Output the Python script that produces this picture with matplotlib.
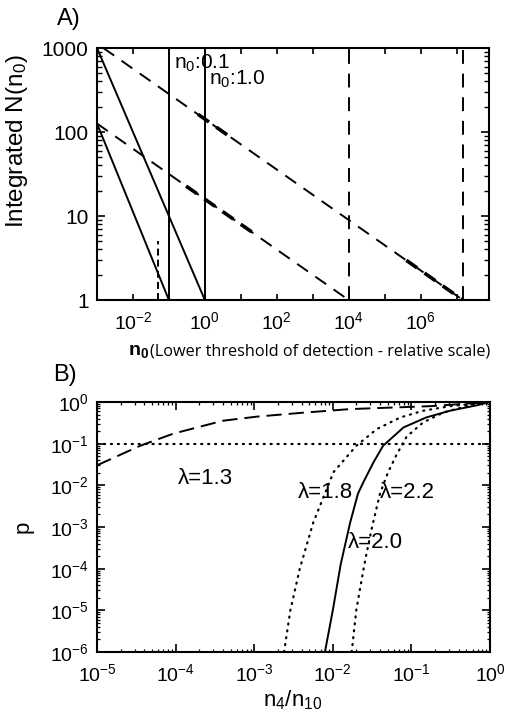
import numpy as np
import matplotlib
matplotlib.use('Agg')
import matplotlib.pyplot as plt
from matplotlib.ticker import FixedLocator, FuncFormatter, NullFormatter, LogLocator, NullLocator

plt.rcParams['font.family'] = ['Liberation Sans', 'DejaVu Sans']
plt.rcParams['mathtext.fontset'] = 'custom'
plt.rcParams['mathtext.rm'] = 'Liberation Sans'
plt.rcParams['mathtext.it'] = 'Liberation Sans:italic'
plt.rcParams['mathtext.bf'] = 'Liberation Sans:bold'
plt.rcParams['lines.scale_dashes'] = False

# ---------------- Panel A data ----------------
a_solid1_n0 = [1e-3, 1.0]
a_solid1_N = [1000, 1]
a_solid2_n0 = [1e-3, 0.1]
a_solid2_N = [126, 1]
a_dash1_n0 = [1.5e-3, 1.5e7]
a_dash1_N = [1000, 1]
a_dash2_n0 = [1e-3, 1e4]
a_dash2_N = [126, 1]
a_heavy1a_n0 = [0.65, 6.0]
a_heavy1a_N = [162, 83]
a_heavy1b_n0 = [4e5, 1.5e7]
a_heavy1b_N = [2.97, 1]
a_heavy2_n0 = [0.3, 22]
a_heavy2_N = [22.7, 6.3]
a_vsolid = [0.1, 1.0]
a_vdash = [1e4, 1.5e7]
a_vshort_n0 = 0.05
a_vshort_N = [1, 5]
a_labels = ['n$_0$:0.1', 'n$_0$:1.0']
a_xtick_exp = [-2, 0, 2, 4, 6]

# ---------------- Panel B data ----------------
b_l13_logx = [-5.0, -4.45, -4.03, -3.4, -2.96, -2.4, -1.78, -1.2, -0.76, -0.3, 0.0]
b_l13_logp = [-1.52, -1.05, -0.76, -0.45, -0.35, -0.26, -0.17, -0.13, -0.10, -0.04, 0.0]
b_l18_logx = [-2.62, -2.54, -2.42, -2.25, -1.99, -1.70, -1.44, -1.14, -0.85, -0.51, 0.0]
b_l18_logp = [-6.0, -5.0, -4.0, -2.9, -1.68, -1.05, -0.65, -0.37, -0.21, -0.10, 0.0]
b_l20_logx = [-2.10, -2.00, -1.90, -1.78, -1.68, -1.61, -1.48, -1.36, -1.10, -0.81, -0.51, -0.17, 0.0]
b_l20_logp = [-6.0, -5.0, -3.9, -2.9, -2.2, -1.92, -1.44, -1.05, -0.61, -0.37, -0.21, -0.08, 0.0]
b_l22_logx = [-1.76, -1.70, -1.61, -1.57, -1.50, -1.40, -1.30, -1.19, -1.06, -0.85, -0.59, -0.30, 0.0]
b_l22_logp = [-6.0, -4.98, -4.02, -3.63, -3.0, -2.2, -1.7, -1.27, -0.83, -0.49, -0.25, -0.10, 0.0]
b_pthresh = 0.1
b_lambda_labels = ['λ=1.3', 'λ=1.8', 'λ=2.2', 'λ=2.0']

W, H = 505, 719
fig = plt.figure(figsize=(W / 100, H / 100), dpi=100)


def fx(px):
    return px / W


def fy(py):
    return 1 - py / H


def axrect(l, t, r, b):
    return [fx(l), fy(b), fx(r) - fx(l), fy(t) - fy(b)]


FS = 14
LW_AX = 1.5


def pow_fmt(v, pos):
    e = int(round(np.log10(v)))
    return r'$\mathregular{10^{%d}}$' % e


# ================= Panel A =================
axA = fig.add_axes(axrect(97, 48, 489, 300))
axA.set_xscale('log')
axA.set_yscale('log')
axA.set_xlim(1e-3, 8e7)
axA.set_ylim(1, 1000)

lwA = 1.4
dashA = (0, (9.5, 6.5))
axA.plot(a_solid1_n0, a_solid1_N, color='k', lw=lwA)
axA.plot(a_solid2_n0, a_solid2_N, color='k', lw=lwA)
axA.plot(a_dash1_n0, a_dash1_N, color='k', lw=lwA, linestyle=dashA)
axA.plot(a_dash2_n0, a_dash2_N, color='k', lw=lwA, linestyle=dashA)
for xs, ys in [(a_heavy1a_n0, a_heavy1a_N), (a_heavy1b_n0, a_heavy1b_N), (a_heavy2_n0, a_heavy2_N)]:
    axA.plot(xs, ys, color='k', lw=2.6, linestyle=(0, (9.5, 6.5)))
for v in a_vsolid:
    axA.plot([v, v], [1, 1000], color='k', lw=lwA)
for v in a_vdash:
    axA.plot([v, v], [1, 1000], color='k', lw=lwA, linestyle=(0, (10, 7)))
axA.plot([a_vshort_n0, a_vshort_n0], a_vshort_N, color='k', lw=lwA, linestyle=(0, (5, 3)))

axA.xaxis.set_major_locator(FixedLocator([10.0 ** k for k in range(-3, 9)]))
axA.xaxis.set_minor_locator(NullLocator())
axA.xaxis.set_major_formatter(FuncFormatter(
    lambda v, p: pow_fmt(v, p) if int(round(np.log10(v))) in a_xtick_exp else ''))
axA.yaxis.set_major_locator(FixedLocator([1, 10, 100, 1000]))
axA.yaxis.set_minor_locator(LogLocator(base=10, subs=np.arange(2, 10)))
axA.yaxis.set_minor_formatter(NullFormatter())
axA.yaxis.set_major_formatter(FuncFormatter(lambda v, p: '%d' % int(round(v))))
axA.tick_params(axis='x', which='major', direction='in', top=True, length=4, width=1.2,
                labelsize=FS, pad=8)
axA.tick_params(axis='y', which='major', direction='in', right=True, length=6, width=1.2,
                labelsize=15, pad=6)
axA.tick_params(axis='y', which='minor', direction='in', right=True, length=3.5, width=1.0)
for s in axA.spines.values():
    s.set_linewidth(LW_AX)

fig.text(fx(174), fy(63), a_labels[0], fontsize=15, va='center', ha='left')
fig.text(fx(209), fy(79), a_labels[1], fontsize=15, va='center', ha='left')
fig.text(fx(57), fy(19), 'A)', fontsize=17, va='center', ha='left')
fig.text(fx(17), fy(141), 'Integrated N(n$_0$)', fontsize=17.5, rotation=90, va='center', ha='center')
fig.text(fx(128), fy(351), r'$\mathbf{n_0}$', fontsize=14, va='center', ha='left')
fig.text(fx(150), fy(352), '(Lower threshold of detection - relative scale)', fontsize=11.7,
         family=['Open Sans', 'DejaVu Sans'], va='center', ha='left')

# ================= Panel B =================
axB = fig.add_axes(axrect(97, 402, 490, 652))
axB.set_xscale('log')
axB.set_yscale('log')
axB.set_xlim(1e-5, 1)
axB.set_ylim(1e-6, 1)

lwB = 1.4
dot = (0, (0.8, 4.2))
axB.plot(10 ** np.array(b_l13_logx), 10 ** np.array(b_l13_logp), color='k', lw=lwB,
         linestyle=(0, (11, 5)))
axB.plot(10 ** np.array(b_l18_logx), 10 ** np.array(b_l18_logp), color='k', lw=1.6,
         linestyle=dot, dash_capstyle='round')
axB.plot(10 ** np.array(b_l20_logx), 10 ** np.array(b_l20_logp), color='k', lw=lwB)
axB.plot(10 ** np.array(b_l22_logx), 10 ** np.array(b_l22_logp), color='k', lw=1.6,
         linestyle=dot, dash_capstyle='round')
axB.axhline(b_pthresh, color='k', lw=1.6, linestyle=dot, dash_capstyle='round')

axB.xaxis.set_major_locator(FixedLocator([10.0 ** k for k in range(-5, 1)]))
axB.xaxis.set_minor_locator(LogLocator(base=10, subs=np.arange(2, 10), numticks=20))
axB.xaxis.set_minor_formatter(NullFormatter())
axB.xaxis.set_major_formatter(FuncFormatter(pow_fmt))
axB.yaxis.set_major_locator(FixedLocator([10.0 ** k for k in range(-6, 1)]))
axB.yaxis.set_minor_locator(LogLocator(base=10, subs=np.arange(2, 10), numticks=20))
axB.yaxis.set_minor_formatter(NullFormatter())
axB.yaxis.set_major_formatter(FuncFormatter(pow_fmt))
axB.tick_params(which='major', direction='in', top=True, right=True, length=5.5, width=1.2,
                labelsize=FS)
axB.tick_params(axis='x', which='major', pad=8)
axB.tick_params(axis='y', which='major', pad=6)
axB.tick_params(which='minor', direction='in', top=True, right=True, length=2.5, width=0.9)
for s in axB.spines.values():
    s.set_linewidth(LW_AX)

fig.text(fx(205), fy(478), b_lambda_labels[0], fontsize=16, va='center', ha='center')
fig.text(fx(325), fy(492), b_lambda_labels[1], fontsize=16, va='center', ha='center')
fig.text(fx(407), fy(492), b_lambda_labels[2], fontsize=16, va='center', ha='center')
fig.text(fx(375), fy(542), b_lambda_labels[3], fontsize=16, va='center', ha='center')
fig.text(fx(53), fy(375), 'B)', fontsize=17, va='center', ha='left')
fig.text(fx(23), fy(527), 'p', fontsize=16, rotation=90, va='center', ha='center')
fig.text(fx(293), fy(700), r'n$_4$/n$_{10}$', fontsize=16, va='center', ha='center')

fig.savefig('out.png', dpi=100)
